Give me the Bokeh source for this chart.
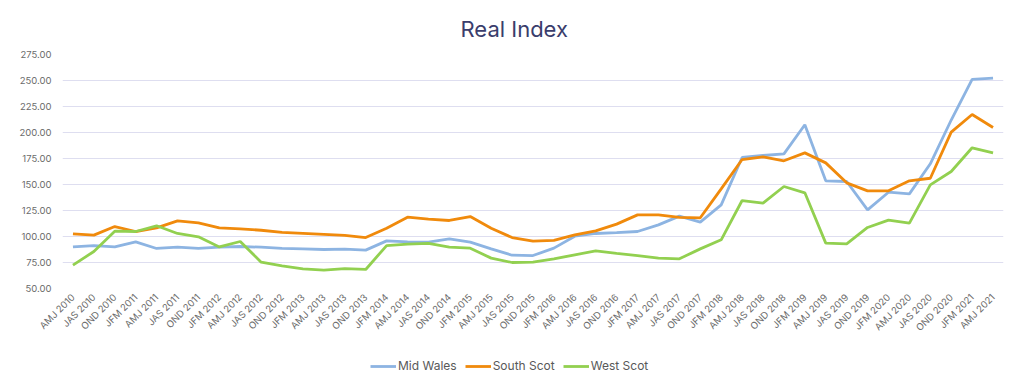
import math
from bokeh.plotting import figure
from bokeh.layouts import column
from bokeh.models import (FactorRange, Range1d, NumeralTickFormatter, FixedTicker,
                          Legend, LegendItem)
from bokeh.embed import file_html
from bokeh.resources import INLINE

quarters = ["AMJ 2010", "JAS 2010", "OND 2010",
            "JFM 2011", "AMJ 2011", "JAS 2011", "OND 2011",
            "JFM 2012", "AMJ 2012", "JAS 2012", "OND 2012",
            "JFM 2013", "AMJ 2013", "JAS 2013", "OND 2013",
            "JFM 2014", "AMJ 2014", "JAS 2014", "OND 2014",
            "JFM 2015", "AMJ 2015", "JAS 2015", "OND 2015",
            "JFM 2016", "AMJ 2016", "JAS 2016", "OND 2016",
            "JFM 2017", "AMJ 2017", "JAS 2017", "OND 2017",
            "JFM 2018", "AMJ 2018", "JAS 2018", "OND 2018",
            "JFM 2019", "AMJ 2019", "JAS 2019", "OND 2019",
            "JFM 2020", "AMJ 2020", "JAS 2020", "OND 2020",
            "JFM 2021", "AMJ 2021"]

mid_wales = [90.0, 91.3, 90.0, 94.9, 88.5, 89.7, 88.5, 89.7, 90.4, 89.7, 88.5,
             88.1, 87.5, 87.8, 86.9, 95.8, 94.9, 94.6, 97.8, 94.6, 88.1, 82.0,
             81.7, 88.8, 100.3, 102.9, 103.8, 104.8, 111.2, 119.6, 113.8, 130.4,
             176.0, 177.9, 179.5, 207.4, 153.5, 152.9, 125.6, 142.6, 141.0, 169.9,
             212.0, 251.0, 252.2]

south_scot = [102.6, 101.3, 109.6, 104.8, 108.3, 115.0, 113.1, 108.3, 107.4, 106.0, 104.0,
              103.0, 102.0, 101.0, 99.0, 108.0, 118.6, 116.7, 115.4, 119.2, 108.0, 99.0,
              95.5, 96.2, 101.6, 105.4, 111.9, 120.8, 120.8, 118.3, 118.0, 145.8,
              174.0, 176.6, 172.8, 180.4, 170.8, 151.6, 143.9, 143.9, 153.5, 156.0,
              200.3, 217.3, 204.8]

west_scot = [72.4, 85.6, 105.1, 104.8, 110.3, 102.9, 99.7, 90.0, 95.2, 75.3, 71.8,
             68.9, 67.6, 69.2, 68.3, 91.3, 92.6, 93.3, 89.7, 88.8, 79.2, 75.0,
             75.3, 78.5, 82.4, 86.2, 83.7, 81.7, 79.2, 78.5, 88.1, 96.8,
             134.6, 132.1, 148.1, 142.0, 93.6, 92.9, 108.7, 115.7, 112.8, 149.7,
             162.5, 185.3, 180.4]

series_names = ["Mid Wales", "South Scot", "West Scot"]
series_colors = ["#8db4e2", "#f08a0c", "#92d050"]
y_ticks = [50, 75, 100, 125, 150, 175, 200, 225, 250, 275]

FONT = "Inter"
LINE_W = 2.8

p = figure(frame_width=941, frame_height=234, output_backend="svg", toolbar_location=None,
           x_range=FactorRange(*quarters), y_range=Range1d(50, 275),
           min_border_left=62, min_border_right=13, min_border_top=52,
           min_border_bottom=62)
p.outline_line_color = None
p.background_fill_color = "white"
p.border_fill_color = "white"

p.title.text = "Real Index"
p.title.align = "left"
p.title.text_font = FONT
p.title.text_font_size = "22px"
p.title.text_font_style = "normal"
p.title.text_color = "#3a3d6c"
p.title.standoff = 26
p.title.offset = 398

all_series = [mid_wales, south_scot, west_scot]
for vals, col in zip(all_series, series_colors):
    p.line(quarters, vals, line_color=col, line_width=LINE_W)

p.yaxis.ticker = FixedTicker(ticks=y_ticks)
p.yaxis.formatter = NumeralTickFormatter(format="0.00")
for ax in (p.xaxis[0], p.yaxis[0]):
    ax.axis_line_color = None
    ax.major_tick_line_color = None
    ax.minor_tick_line_color = None
    ax.major_label_text_font = FONT
    ax.major_label_text_color = "#6b6b6b"
p.yaxis.major_label_text_font_size = "9.5px"
p.yaxis.major_label_standoff = 5
p.xaxis.major_label_text_font_size = "9.5px"
p.xaxis.major_label_orientation = math.pi / 4
p.xaxis.major_label_standoff = 1

p.xgrid.grid_line_color = None
p.ygrid.grid_line_color = "#dedef0"
p.ygrid.grid_line_width = 1

# legend strip: same series drawn off-screen, only the legend is visible
lg = figure(width=1016, height=28, output_backend="svg", toolbar_location=None,
            x_range=FactorRange(*quarters), y_range=Range1d(1000, 1001),
            x_axis_location=None, y_axis_location=None,
            min_border=0)
lg.outline_line_color = None
lg.xgrid.grid_line_color = None
lg.ygrid.grid_line_color = None
items = []
for vals, col, name in zip(all_series, series_colors, series_names):
    r = lg.line(quarters, vals, line_color=col, line_width=LINE_W)
    items.append(LegendItem(label=name, renderers=[r]))
legend = Legend(items=items, orientation="horizontal", location=(308, 5),
                border_line_color=None, background_fill_alpha=0,
                glyph_width=26, glyph_height=12, label_standoff=2, spacing=8,
                padding=0, margin=0,
                label_text_font=FONT, label_text_font_size="12px",
                label_text_color="#595959")
lg.add_layout(legend, "center")

layout = column(p, lg, spacing=0)
open("out.html", "w").write(file_html(layout, INLINE))
